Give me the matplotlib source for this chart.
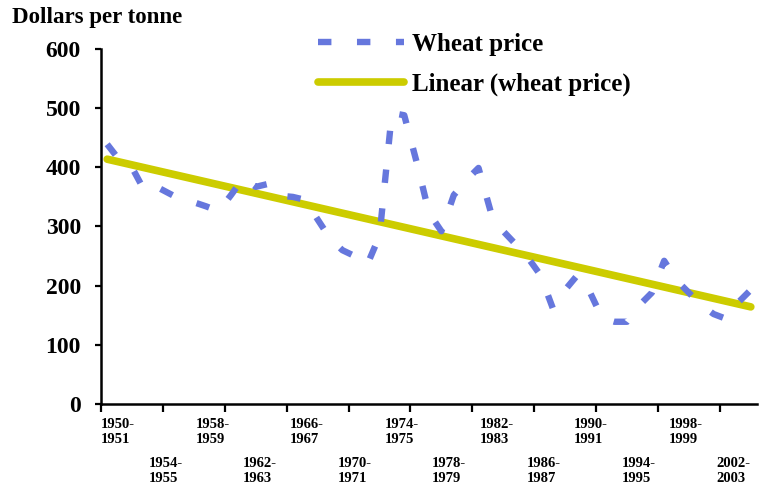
import numpy as np
from matplotlib import pyplot as plt

# wheat price, dollars per tonne, one value per crop year 1950-51 .. 2002-03
years = [str(y) + '-\n' + str(y + 1) for y in range(1950, 2003)]
wheat = [439, 412, 400, 361, 367, 356, 345, 341, 334, 326,
         353, 382, 367, 372, 352, 350, 345, 312, 280, 260,
         250, 235, 284, 492, 488, 409, 323, 292, 353, 378,
         399, 324, 292, 270, 247, 218, 162, 193, 218, 189,
         145, 139, 139, 167, 188, 242, 209, 188, 167, 152,
         144, 172, 193]
yticks = [0, 100, 200, 300, 400, 500, 600]

plt.rcParams['font.family'] = ['Liberation Serif', 'DejaVu Serif']
plt.rcParams['font.weight'] = 'bold'

fig = plt.figure(figsize=(7.61, 4.86), dpi=100)
ax = fig.add_axes([101/761, 1-404/486, 656/761, 355/486])

x = np.arange(len(wheat))
coef = np.polyfit(x, wheat, 1)
trend = np.polyval(coef, x)

ax.plot(x, trend, color='#cccc00', lw=5.5, solid_capstyle='round',
        label='Linear (wheat price)', zorder=2)
ax.plot(x, wheat, color='#6677dd', lw=4.6, dashes=(2.1, 4.0),
        dash_capstyle='butt', label='Wheat price', zorder=3)

ax.set_xlim(-0.5, len(wheat) - 0.5)
ax.set_ylim(0, 600)
ax.set_yticks(yticks)
ax.set_yticklabels([str(v) for v in yticks], fontsize=17, fontweight='bold')
ax.set_xticks(np.arange(-0.5, len(wheat) - 1, 5))
ax.set_xticklabels([])
ax.tick_params(axis='y', direction='out', length=4.5, width=1.6, pad=10)
ax.tick_params(axis='x', direction='out', length=6, width=1.6)
for s in ['top', 'right']:
    ax.spines[s].set_visible(False)
for s in ['left', 'bottom']:
    ax.spines[s].set_linewidth(1.8)

# category labels every 4 years, two staggered rows
trans = ax.get_xaxis_transform()
for n, k in enumerate(range(0, len(years), 4)):
    ypos = -0.040 if n % 2 == 0 else -0.150
    ax.text(k*0.9555 - 0.5, ypos, years[k], transform=trans, ha='left', va='top',
            fontsize=10.5, fontweight='bold', linespacing=1.15)

fig.text(12/761, 1-7/486, 'Dollars per tonne', ha='left', va='top',
         fontsize=16.5, fontweight='bold')

h, l = ax.get_legend_handles_labels()
fig.legend(h[::-1], l[::-1], loc='upper left', bbox_to_anchor=(318/761, 1-33/486),
           frameon=False, handlelength=3.45, handletextpad=0.32,
           labelspacing=0.66, borderpad=0, borderaxespad=0,
           prop={'weight': 'bold', 'size': 18})

plt.savefig('out.png', dpi=100)
